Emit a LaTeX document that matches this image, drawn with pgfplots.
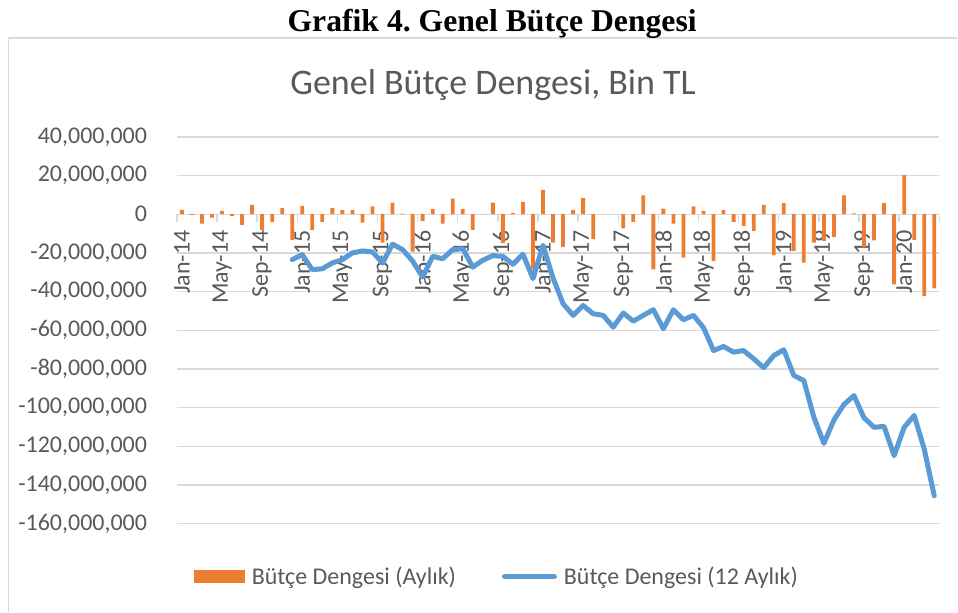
\documentclass[border=0pt]{standalone}
\usepackage{pgfplots}
\pgfplotsset{compat=1.18}
\usepackage{pgfplotstable}
\usepackage{fontspec}
\setmainfont{Carlito}
\newfontfamily\headfont{Liberation Serif}
\definecolor{barorange}{HTML}{ED7D31}
\definecolor{lineblue}{HTML}{5B9BD5}
\definecolor{gridgray}{HTML}{D9D9D9}
\definecolor{txtgray}{HTML}{595959}
\frenchspacing

% monthly balance, million (x1,000,000) of thousand TL ; i = month index from Jan-14
\pgfplotstableread{
i v
0 2.2
1 -0.3
2 -4.8
3 -1.7
4 1.7
5 -0.9
6 -5.5
7 4.8
8 -8.1
9 -4.0
10 3.1
11 -13.3
12 4.3
13 -8.1
14 -4.0
15 3.1
16 2.1
17 2.2
18 -4.3
19 4.0
20 -14.7
21 6.0
22 0.3
23 -19.3
24 -3.5
25 2.6
26 -4.8
27 8.1
28 2.6
29 -8.1
30 0.2
31 6.0
32 -15.0
33 0.7
34 6.4
35 -28.5
36 12.6
37 -14.7
38 -16.9
39 2.1
40 8.3
41 -12.9
42 0.0
43 0.0
44 -7.3
45 -4.0
46 9.7
47 -28.5
48 2.9
49 -4.8
50 -22.4
51 4.0
52 1.7
53 -24.2
54 2.2
55 -4.0
56 -6.0
57 -8.6
58 4.8
59 -21.2
60 5.7
61 -19.0
62 -25.0
63 -14.7
64 -13.8
65 -11.7
66 9.7
67 0.5
68 -17.0
69 -13.5
70 5.7
71 -36.3
72 20.2
73 -13.3
74 -42.3
75 -38.3
}\bars

\pgfplotstableread{
i v
11 -23.5
12 -20.9
13 -28.7
14 -28.2
15 -25.2
16 -23.5
17 -20.0
18 -19.0
19 -19.5
20 -25.2
21 -15.5
22 -18.3
23 -24.2
24 -32.5
25 -21.8
26 -23.0
27 -18.3
28 -17.8
29 -27.3
30 -23.8
31 -21.4
32 -21.8
33 -25.9
34 -20.7
35 -33.3
36 -16.1
37 -33.0
38 -46.3
39 -52.3
40 -47.2
41 -51.5
42 -52.3
43 -58.4
44 -51.1
45 -55.3
46 -52.3
47 -49.4
48 -59.2
49 -49.4
50 -54.6
51 -52.3
52 -58.7
53 -70.5
54 -68.4
55 -71.3
56 -70.5
57 -74.8
58 -79.4
59 -73.1
60 -70.1
61 -83.4
62 -86.0
63 -105.0
64 -118.5
65 -106.4
66 -98.4
67 -93.8
68 -105.3
69 -110.2
70 -109.7
71 -124.9
72 -110.2
73 -104.1
74 -121.4
75 -145.6
}\roll

\begin{document}
\begin{tikzpicture}
\path (0pt,0pt) rectangle (958pt,613pt);
\draw[gridgray, line width=1.5pt] (8.5pt,0.75pt) -- (8.5pt,575pt) -- (958pt,575pt);
\node[anchor=base, inner sep=0pt, font=\headfont\bfseries\fontsize{31.7}{36}\selectfont] at (492.5pt,581.3pt) {Grafik 4. Genel Bütçe Dengesi};
\node[anchor=base, inner sep=0pt, text=txtgray, font=\fontsize{36}{42}\selectfont] at (493.5pt,518.7pt) {Genel Bütçe Dengesi, Bin TL};
\begin{axis}[
  set layers,
  at={(177pt,89pt)}, anchor=south west,
  scale only axis, width=763pt, height=387pt,
  xmin=-0.5, xmax=75.5, ymin=-160, ymax=40,
  axis x line=middle, axis y line=left,
  hide obscured x ticks=false, hide obscured y ticks=false,
  x axis line style={-, draw=gridgray, line width=1.3pt},
  y axis line style={draw=none},
  ytick={-160,-140,...,40},
  yticklabels={{-160,000,000},{-140,000,000},{-120,000,000},{-100,000,000},{-80,000,000},{-60,000,000},{-40,000,000},{-20,000,000},0,{20,000,000},{40,000,000}},
  ytick style={draw=none},
  yticklabel style={anchor=east, inner sep=0pt, xshift=-22pt, text=txtgray, font=\fontsize{24}{28}\selectfont},
  ymajorgrids, grid style={gridgray, line width=1.3pt},
  xtick={-0.5,3.5,...,75.5},
  xticklabels={},
  xtick style={draw=gridgray, line width=1.3pt},
  major tick length=7.7pt, tick align=outside,
  extra x ticks={0,4,...,72},
  extra x tick labels={Jan-14,May-14,Sep-14,Jan-15,May-15,Sep-15,Jan-16,May-16,Sep-16,Jan-17,May-17,Sep-17,Jan-18,May-18,Sep-18,Jan-19,May-19,Sep-19,Jan-20},
  extra x tick style={major tick length=0pt, grid=none,
    xticklabel style={yshift=-16pt, rotate=90, anchor=east, inner sep=0pt, text=txtgray, font=\fontsize{24}{28}\selectfont}},
  legend columns=2,
  legend style={draw=none, fill=none, inner sep=0pt, outer sep=0pt,
    at={(0.0223,-0.137)}, anchor=west,
    font=\fontsize{24}{28}\selectfont, text=txtgray,
    nodes={inner sep=0pt},
    /tikz/every odd column/.append style={column sep=7pt},
    /tikz/every even column/.append style={column sep=46pt}},
  legend cell align=left,
]
\addplot[ybar, bar width=3.8pt, fill=barorange, draw=none,
  legend image code/.code={\fill[barorange] (0pt,-6.5pt) rectangle (51pt,6.5pt);}]
  table[x=i, y=v] {\bars};
\addlegendentry{Bütçe Dengesi (Aylık)}
\addplot[lineblue, line width=5pt, line join=round, line cap=round,
  legend image code/.code={\draw[lineblue, line width=5pt, line cap=round] (2.5pt,0pt) -- (52.5pt,0pt);}]
  table[x=i, y=v] {\roll};
\addlegendentry{Bütçe Dengesi (12 Aylık)}
\end{axis}
\end{tikzpicture}
\end{document}
